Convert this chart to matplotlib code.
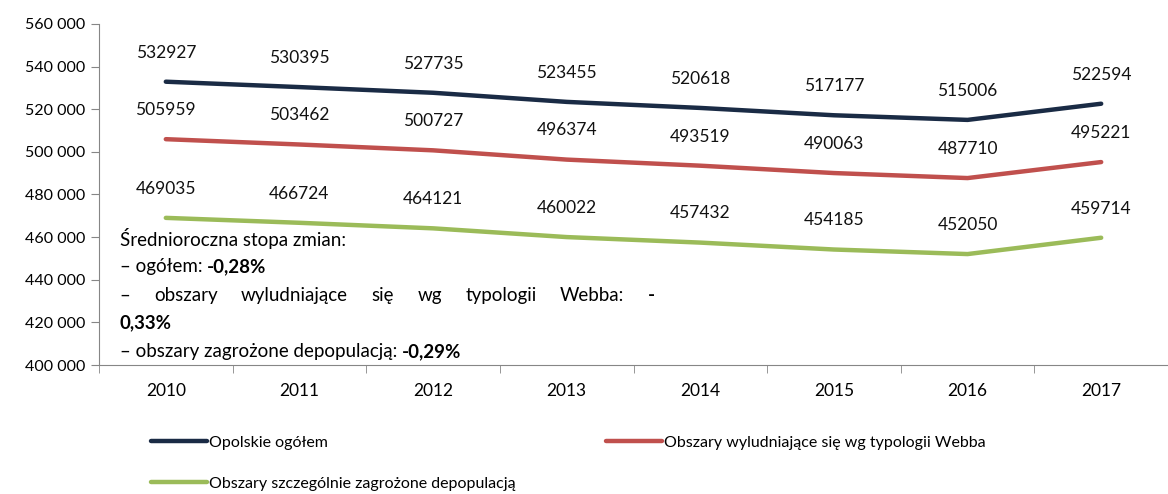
import matplotlib.pyplot as plt
from matplotlib.ticker import FuncFormatter, FixedLocator

plt.rcParams['font.family'] = ['Lato', 'DejaVu Sans']

years = ["2010", "2011", "2012", "2013", "2014", "2015", "2016", "2017"]
opolskie = [532927, 530395, 527735, 523455, 520618, 517177, 515006, 522594]
webba = [505959, 503462, 500727, 496374, 493519, 490063, 487710, 495221]
zagrozone = [469035, 466724, 464121, 460022, 457432, 454185, 452050, 459714]

series = [
    ("Opolskie ogółem", opolskie, "#1a2b45"),
    ("Obszary wyludniające się wg typologii Webba", webba, "#c0504d"),
    ("Obszary szczególnie zagrożone depopulacją", zagrozone, "#9bbb59"),
]

fig = plt.figure(figsize=(11.68, 4.94), dpi=100)
ax = fig.add_axes([99 / 1168, 1 - 365 / 494, 1 - 99 / 1168, (365 - 24) / 494])

x = list(range(len(years)))
lines = []
for name, vals, col in series:
    ln, = ax.plot(x, vals, color=col, lw=3.2, solid_capstyle="round", label=name)
    lines.append(ln)
    for xi, v in zip(x, vals):
        ax.annotate(str(v), (xi, v), xytext=(0, 21), textcoords="offset points",
                    ha="center", va="center", fontsize=12.5, color="#111111")

ax.set_xlim(-0.5, 7.5)
ax.set_ylim(400000, 560000)
ax.set_yticks(range(400000, 560001, 20000))
ax.yaxis.set_major_formatter(FuncFormatter(lambda v, p: f"{int(v):,}".replace(",", " ")))
ax.set_xticks(x)
ax.set_xticklabels(years)
ax.xaxis.set_minor_locator(FixedLocator([i - 0.5 for i in range(len(years) + 1)]))
ax.tick_params(axis="x", which="major", length=0, pad=13, labelsize=12.5)
ax.tick_params(axis="x", which="minor", length=6, color="#868686")
ax.tick_params(axis="y", length=6, color="#868686", labelsize=11.5, pad=4)
for s in ["top", "right"]:
    ax.spines[s].set_visible(False)
for s in ["left", "bottom"]:
    ax.spines[s].set_color("#868686")

# note block
fs = 13.5
x0 = 0.0195
ax.text(x0, 0.37, "Średnioroczna stopa zmian:", transform=ax.transAxes, fontsize=fs, va="center")
t = ax.text(x0, 0.288, "– ogółem: ", transform=ax.transAxes, fontsize=fs, va="center")
ax.annotate("-0,28%", xy=(1, 0), xycoords=t, fontsize=fs, va="bottom", fontweight="bold")

# justified line
words = ["–", "obszary", "wyludniające", "się", "wg", "typologii", "Webba:", "-"]
fig.canvas.draw()
r = fig.canvas.get_renderer()
wts = [ax.text(x0, 0.205, w, transform=ax.transAxes, fontsize=fs, va="center",
               fontweight="bold" if w == "-" else "normal") for w in words]
axw = ax.get_window_extent(r).width
widths = [tt.get_window_extent(r).width / axw for tt in wts]
x1 = (655 - 99) / (1168 - 99)
gap = (x1 - x0 - sum(widths)) / (len(words) - 1)
pos = x0
for tt, w in zip(wts, widths):
    tt.set_x(pos)
    pos += w + gap

ax.text(x0, 0.123, "0,33%", transform=ax.transAxes, fontsize=fs, va="center", fontweight="bold")
t = ax.text(x0, 0.04, "– obszary zagrożone depopulacją: ", transform=ax.transAxes, fontsize=fs, va="center")
ax.annotate("-0,29%", xy=(1, 0), xycoords=t, fontsize=fs, va="bottom", fontweight="bold")

legend_pos = [(137, 421), (592, 421), (137, 462)]
for ln, (px, py) in zip(lines, legend_pos):
    fig.legend([ln], [ln.get_label()], loc="upper left", bbox_to_anchor=(px / 1168, 1 - py / 494),
               frameon=False, fontsize=11.5, handlelength=3.5, handletextpad=0.1)

plt.savefig("out.png", dpi=100)
